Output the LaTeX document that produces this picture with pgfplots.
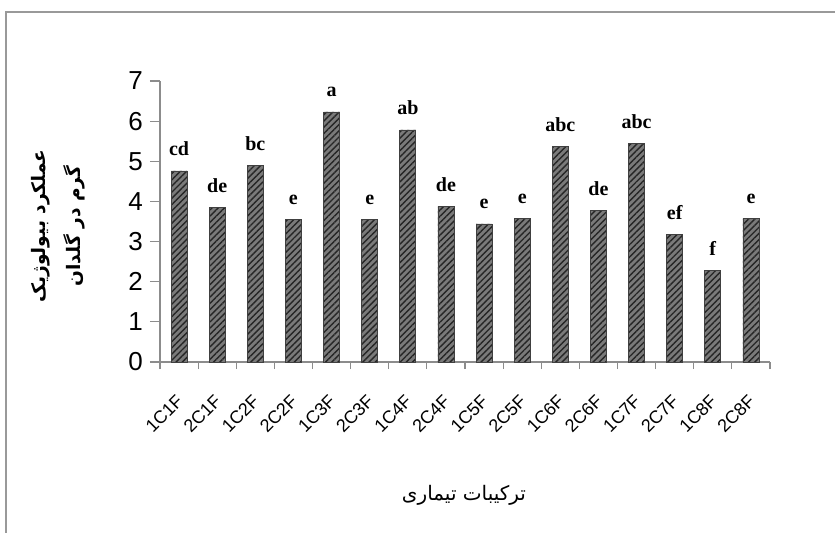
\documentclass[border=0pt]{standalone}
\usepackage{fontspec}
\setmainfont{Liberation Sans}
\newfontfamily\arabicfont[Script=Arabic]{DejaVu Sans}
\newfontfamily\serifb{Liberation Serif}
\TeXXeTstate=1
\usepackage{pgfplots}
\pgfplotsset{compat=1.18}
\usetikzlibrary{patterns.meta}

\begin{document}
\begin{tikzpicture}
\path[use as bounding box] (-80pt,-85pt) rectangle (337.5pt,181pt);
\draw[line width=1.2pt, black!40] (-77pt,-90pt) -- (-77pt,175pt) -- (340pt,175pt);
\begin{axis}[
  at={(0,0)}, anchor=south west, scale only axis,
  width=305pt, height=140.5pt,
  xmin=-0.5, xmax=15.5, ymin=0, ymax=7,
  axis x line*=bottom, axis y line*=left,
  axis line style={black!45, line width=0.6pt},
  ytick={0,1,...,7},
  xtick={0,1,...,15},
  xticklabels={1C1F,2C1F,1C2F,2C2F,1C3F,2C3F,1C4F,2C4F,1C5F,2C5F,1C6F,2C6F,1C7F,2C7F,1C8F,2C8F},
  minor xtick={-0.5,0.5,...,15.5},
  major x tick style={draw=none},
  tick style={black!45, line width=0.6pt},
  tick align=outside,
  major tick length=5pt,
  minor tick length=3.5pt,
  /pgf/number format/assume math mode=true,
  yticklabel style={font=\fontsize{13}{15}\selectfont},
  xticklabel style={font=\fontsize{9}{11}\selectfont, inner sep=0pt, xshift=0.5pt, yshift=-13pt, rotate=45, anchor=east},
  clip=false,
]
\addplot[ybar, bar width=8pt, fill=black!52, draw=black!75, line width=0.4pt,
  postaction={pattern={Lines[angle=45,distance=2.2pt,line width=0.7pt]}, pattern color=black!85},
  nodes near coords, point meta=explicit symbolic,
  every node near coord/.append style={font=\serifb\bfseries\fontsize{10}{12}\selectfont, anchor=base, yshift=7.5pt, black}]
coordinates {
(0,4.76) [cd]
(1,3.85) [de]
(2,4.90) [bc]
(3,3.56) [e]
(4,6.23) [a]
(5,3.56) [e]
(6,5.78) [ab]
(7,3.87) [de]
(8,3.44) [e]
(9,3.57) [e]
(10,5.37) [abc]
(11,3.77) [de]
(12,5.45) [abc]
(13,3.18) [ef]
(14,2.29) [f]
(15,3.57) [e]
};
\end{axis}
\node[rotate=90, align=center, font=\arabicfont\bfseries\fontsize{9.3}{17.5}\selectfont] at (-51pt,68pt) {\beginR عملکرد بیولوژیک\endR\\\beginR گرم در گلدان\endR};
\node[font=\arabicfont\fontsize{10}{12}\selectfont] at (152pt,-66.5pt) {\beginR ترکیبات تیماری\endR};
\end{tikzpicture}
\end{document}
